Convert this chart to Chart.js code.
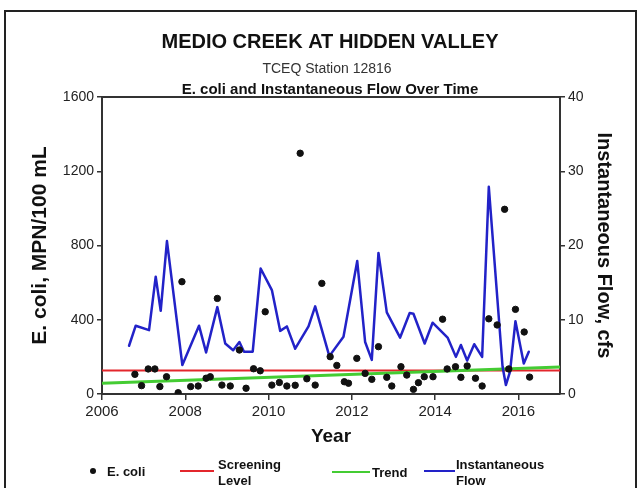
<!DOCTYPE html>
<html>
<head>
<meta charset="utf-8">
<script src="https://cdn.jsdelivr.net/npm/chart.js@4.4.1/dist/chart.umd.min.js"></script>
<style>
  html, body { margin:0; padding:0; background:#fff; }
  #wrap { width:641px; height:488px; position:relative; }
</style>
</head>
<body>
<div id="wrap"><canvas id="medio-canvas" width="641" height="488"></canvas></div>
<script>
// E. coli samples (MPN/100 mL)
let ecoliYears  = [2006.79, 2006.95, 2007.11, 2007.27, 2007.39, 2007.55, 2007.83, 2007.92, 2008.13, 2008.31,
                   2008.5, 2008.6, 2008.77, 2008.88, 2009.08, 2009.3, 2009.46, 2009.64, 2009.8, 2009.92,
                   2010.08, 2010.26, 2010.44, 2010.64, 2010.76, 2010.92, 2011.12, 2011.28, 2011.48, 2011.64,
                   2011.82, 2011.92, 2012.12, 2012.32, 2012.48, 2012.64, 2012.84, 2012.96, 2013.18, 2013.32,
                   2013.48, 2013.6, 2013.74, 2013.95, 2014.18, 2014.29, 2014.49, 2014.62, 2014.77, 2014.97,
                   2015.13, 2015.29, 2015.49, 2015.67, 2015.77, 2015.93, 2016.14, 2016.27];
let ecoliValues = [106, 45, 135, 135, 40, 93, 7, 605, 40, 43,
                   85, 93, 515, 48, 43, 237, 31, 136, 125, 443,
                   48, 62, 43, 47, 1297, 82, 48, 596, 201, 154,
                   66, 58, 192, 111, 79, 255, 90, 43, 147, 102,
                   25, 61, 93, 93, 403, 135, 147, 90, 151, 85,
                   43, 405, 372, 995, 135, 456, 334, 91];

// instantaneous flow (cfs)
let flowYears  = [2006.65, 2006.81, 2007.13, 2007.29, 2007.41, 2007.56, 2007.93, 2008.33, 2008.5, 2008.77,
                  2008.96, 2009.15, 2009.3, 2009.41, 2009.62, 2009.81, 2010.08, 2010.28, 2010.44, 2010.64,
                  2010.96, 2011.12, 2011.46, 2011.8, 2012.13, 2012.32, 2012.48, 2012.64, 2012.84, 2013.16,
                  2013.39, 2013.48, 2013.75, 2013.94, 2014.3, 2014.5, 2014.62, 2014.77, 2014.94, 2015.13,
                  2015.29, 2015.62, 2015.7, 2015.8, 2015.93, 2016.13, 2016.25];
let flowValues = [6.5, 9.2, 8.6, 15.8, 11.2, 20.6, 3.9, 9.2, 5.6, 11.7,
                  6.8, 5.9, 7.0, 5.7, 5.7, 16.9, 14.0, 8.5, 9.1, 6.1,
                  9.1, 11.8, 5.1, 7.7, 17.9, 7.0, 4.6, 19.0, 11.0, 7.6,
                  10.9, 10.8, 6.8, 9.6, 7.6, 5.0, 6.6, 4.5, 6.7, 5.0,
                  27.9, 3.7, 1.2, 3.0, 9.8, 4.1, 5.7];

let lineYears      = [2006, 2017];
let screeningLevel = [126, 126];
let trendValues    = [58, 146];

let yearRange = [2006, 2017];
let ecoliRange = [0, 1600];
let flowRange = [0, 40];

let titleLines = ['MEDIO CREEK AT HIDDEN VALLEY', 'TCEQ Station 12816', 'E. coli and Instantaneous Flow Over Time'];

function pairs(xs, ys) {
  return xs.map((x, i) => ({x: x, y: ys[i]}));
}
const plain = v => String(v);

const FONT = '"Liberation Sans", Arial, sans-serif';

// frame, titles, plot box and legend
const decorations = {
  id: 'decorations',
  afterDraw(chart) {
    const ctx = chart.ctx;
    const a = chart.chartArea;
    ctx.save();
    // outer frame
    ctx.strokeStyle = '#222';
    ctx.lineWidth = 2;
    ctx.strokeRect(5, 11, 631, 500);
    // top edge of the plot box
    ctx.strokeStyle = '#333';
    ctx.beginPath();
    ctx.moveTo(a.left, a.top);
    ctx.lineTo(a.right, a.top);
    ctx.stroke();

    // titles
    ctx.fillStyle = '#111';
    ctx.textAlign = 'center';
    ctx.textBaseline = 'alphabetic';
    ctx.font = 'bold 20px ' + FONT;
    ctx.fillText(titleLines[0], 330, 48);
    ctx.font = '14px ' + FONT;
    ctx.fillStyle = '#333';
    ctx.fillText(titleLines[1], 327, 73);
    ctx.font = 'bold 15px ' + FONT;
    ctx.fillStyle = '#111';
    ctx.fillText(titleLines[2], 330, 94);

    // legend
    ctx.textAlign = 'left';
    ctx.font = 'bold 13px ' + FONT;
    ctx.fillStyle = '#111';
    ctx.beginPath();
    ctx.arc(93, 471, 3, 0, Math.PI * 2);
    ctx.fill();
    ctx.fillText('E. coli', 107, 476);

    ctx.lineWidth = 2;
    ctx.strokeStyle = '#e3262c';
    ctx.beginPath(); ctx.moveTo(180, 471); ctx.lineTo(214, 471); ctx.stroke();
    ctx.fillText('Screening', 218, 469);
    ctx.fillText('Level', 218, 485);

    ctx.strokeStyle = '#44cc33';
    ctx.beginPath(); ctx.moveTo(332, 472); ctx.lineTo(370, 472); ctx.stroke();
    ctx.fillText('Trend', 372, 477);

    ctx.strokeStyle = '#2222c8';
    ctx.beginPath(); ctx.moveTo(424, 471); ctx.lineTo(455, 471); ctx.stroke();
    ctx.fillText('Instantaneous', 456, 469);
    ctx.fillText('Flow', 456, 485);
    ctx.restore();
  }
};

const ctx = document.getElementById('medio-canvas').getContext('2d');
window.medioChart = new Chart(ctx, {
  type: 'scatter',
  data: {
    datasets: [
      {
        label: 'E. coli',
        data: pairs(ecoliYears, ecoliValues),
        yAxisID: 'y',
        backgroundColor: '#111',
        borderColor: '#111',
        pointRadius: 3.2,
        showLine: false
      },
      {
        label: 'Instantaneous Flow',
        type: 'line',
        data: pairs(flowYears, flowValues),
        yAxisID: 'y1',
        borderColor: '#2222c8',
        borderWidth: 2.5,
        borderJoinStyle: 'round',
        borderCapStyle: 'round',
        pointRadius: 0,
        tension: 0,
        fill: false
      },
      {
        label: 'Trend',
        type: 'line',
        data: pairs(lineYears, trendValues),
        yAxisID: 'y',
        borderColor: '#44cc33',
        borderWidth: 3,
        pointRadius: 0,
        fill: false
      },
      {
        label: 'Screening Level',
        type: 'line',
        data: pairs(lineYears, screeningLevel),
        yAxisID: 'y',
        borderColor: '#e3262c',
        borderWidth: 2,
        pointRadius: 0,
        fill: false
      }
    ]
  },
  options: {
    responsive: false,
    animation: false,
    devicePixelRatio: 1,
    layout: { padding: { top: 97, left: 0, right: 0, bottom: 0 } },
    plugins: {
      legend: { display: false },
      title: { display: false },
      tooltip: { enabled: false }
    },
    scales: {
      x: {
        type: 'linear',
        min: yearRange[0],
        max: yearRange[1],
        ticks: { stepSize: 2, includeBounds: false, callback: plain, color: '#222', font: { family: FONT, size: 15 }, padding: 3 },
        grid: { drawOnChartArea: false, tickLength: 6, color: '#333', lineWidth: 1.5 },
        border: { color: '#333', width: 2 },
        title: { display: true, text: 'Year', color: '#111', font: { family: FONT, size: 19, weight: 'bold' }, padding: { top: 0, bottom: 40 } },
        afterFit: s => { s.height = 94; }
      },
      y: {
        position: 'left',
        min: ecoliRange[0],
        max: ecoliRange[1],
        ticks: { stepSize: 400, callback: plain, color: '#222', font: { family: FONT, size: 14 }, padding: 3 },
        grid: { drawOnChartArea: false, tickLength: 5, color: '#333', lineWidth: 1.5 },
        border: { color: '#333', width: 2 },
        title: { display: true, text: 'E. coli, MPN/100 mL', color: '#111', font: { family: FONT, size: 21, weight: 'bold' }, padding: { top: 28, bottom: 0 } },
        afterFit: s => { s.width = 102; }
      },
      y1: {
        position: 'right',
        min: flowRange[0],
        max: flowRange[1],
        ticks: { stepSize: 10, callback: plain, color: '#222', font: { family: FONT, size: 14 }, padding: 3 },
        grid: { drawOnChartArea: false, tickLength: 5, color: '#333', lineWidth: 1.5 },
        border: { color: '#333', width: 2 },
        title: { display: true, text: 'Instantaneous Flow, cfs', color: '#111', font: { family: FONT, size: 20, weight: 'bold' }, padding: { top: 25, bottom: 0 } },
        afterFit: s => { s.width = 81; }
      }
    }
  },
  plugins: [decorations]
});
</script>
</body>
</html>
